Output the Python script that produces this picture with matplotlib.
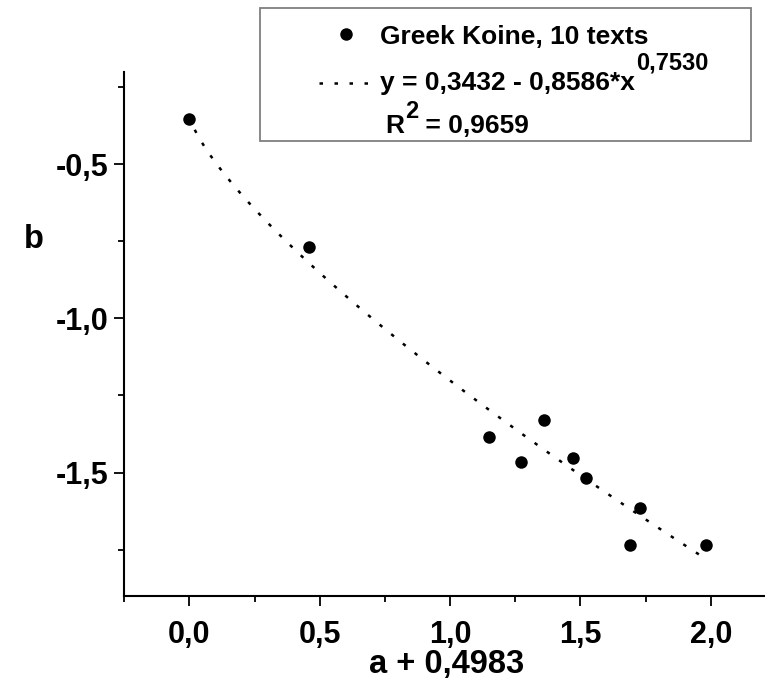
import matplotlib
matplotlib.use("Agg")
import matplotlib.pyplot as plt
import numpy as np
from matplotlib.lines import Line2D
from matplotlib.patches import Rectangle
from matplotlib.ticker import FixedLocator, MultipleLocator

# Measured points (a + 0.4983, b)
x_vals = [0.00, 0.46, 1.15, 1.27, 1.36, 1.47, 1.52, 1.69, 1.73, 1.98]
y_vals = [-0.355, -0.768, -1.385, -1.464, -1.329, -1.452, -1.516, -1.736, -1.616, -1.735]

# Power-law fit y = c + k * x^p
fit_intercept = -0.3432
fit_coef = -0.8586
fit_power = 0.7530

x_ticks = [0.0, 0.5, 1.0, 1.5, 2.0]
x_tick_labels = ["0,0", "0,5", "1,0", "1,5", "2,0"]
y_ticks = [-1.5, -1.0, -0.5]
y_tick_labels = ["-1,5", "-1,0", "-0,5"]

series_label = "Greek Koine, 10 texts"
fit_label_main = "y = 0,3432 - 0,8586*x"
fit_label_exp = "0,7530"
r2_base = "R"
r2_exp = "2"
r2_rest = " = 0,9659"

W, H = 765, 686
plt.rcParams['font.family'] = ['Liberation Sans', 'DejaVu Sans']
plt.rcParams['font.weight'] = 'bold'

fig = plt.figure(figsize=(W / 100, H / 100), dpi=100)
fig.patch.set_facecolor('white')

# axes frame in pixel terms: left 124, right 776 (runs off the canvas), top 72, bottom 596
L, R, T, B = 124.3, 776.0, 71.6, 596.0
ax = fig.add_axes([L / W, 1 - B / H, (R - L) / W, (B - T) / H])
ax.set_xlim(-0.25, 2.25)
ax.set_ylim(-1.9, -0.2)

dotted = (0, (1.4, 4.6))
dot_lw = 1.8

xc = np.linspace(0, max(x_vals), 300)
ax.plot(xc, fit_intercept + fit_coef * xc ** fit_power, color='black', lw=dot_lw,
        linestyle=dotted)
ax.plot(x_vals, y_vals, 'o', color='black', ms=9, mew=0)

for side in ('top', 'right'):
    ax.spines[side].set_visible(False)
for side in ('left', 'bottom'):
    ax.spines[side].set_linewidth(1.5)

ax.xaxis.set_major_locator(FixedLocator(x_ticks))
ax.set_xticklabels(x_tick_labels)
ax.yaxis.set_major_locator(FixedLocator(y_ticks))
ax.set_yticklabels(y_tick_labels)
ax.xaxis.set_minor_locator(MultipleLocator(0.25))
ax.yaxis.set_minor_locator(MultipleLocator(0.25))

ax.tick_params(which='major', direction='out', length=7.2, width=1.3, labelsize=22)
ax.tick_params(which='minor', direction='out', length=4.0, width=1.3)
ax.tick_params(axis='x', which='major', pad=10)
ax.tick_params(axis='y', which='major', pad=4.3)

ax.set_xlabel("a + 0,4983", fontsize=23.5, fontweight='bold', va='center')
ax.xaxis.set_label_coords((447 - L) / (R - L), (B - 665) / (B - T))
ax.set_ylabel("b", fontsize=23.5, fontweight='bold', rotation=0, va='center', ha='center')
ax.yaxis.set_label_coords((34 - L) / (R - L), (B - 240) / (B - T))


# legend block, laid out in pixel coordinates
def fx(px):
    return px / W


def fy(py):
    return 1 - py / H


fig.add_artist(Rectangle((fx(260), fy(141)), (751 - 260) / W, (141 - 8) / H,
                         transform=fig.transFigure, fill=False,
                         edgecolor='#7f7f7f', lw=1.3))
fig.add_artist(Line2D([fx(346)], [fy(34)], marker='o', ms=9, mew=0,
                      color='black', transform=fig.transFigure))
fig.add_artist(Line2D([fx(318.5), fx(368)], [fy(82.5), fy(82.5)], lw=dot_lw,
                      linestyle=dotted, color='black', transform=fig.transFigure))

fig.text(fx(380), fy(43.5), series_label, fontsize=19, va='baseline', ha='left')
renderer = fig.canvas.get_renderer()
t_main = fig.text(fx(380), fy(90), fit_label_main, fontsize=19, va='baseline', ha='left')
x_end = t_main.get_window_extent(renderer).x1
fig.text(x_end / W + 1 / W, fy(69.5), fit_label_exp, fontsize=17, va='baseline', ha='left')

t_r = fig.text(fx(385), fy(133), r2_base, fontsize=19, va='baseline', ha='left')
x_end = t_r.get_window_extent(renderer).x1
t_e = fig.text(x_end / W + 1 / W, fy(117.5), r2_exp, fontsize=17, va='baseline', ha='left')
x_end = t_e.get_window_extent(renderer).x1
fig.text(x_end / W, fy(133), r2_rest, fontsize=19, va='baseline', ha='left')

fig.savefig("out.png", dpi=100, facecolor='white')
